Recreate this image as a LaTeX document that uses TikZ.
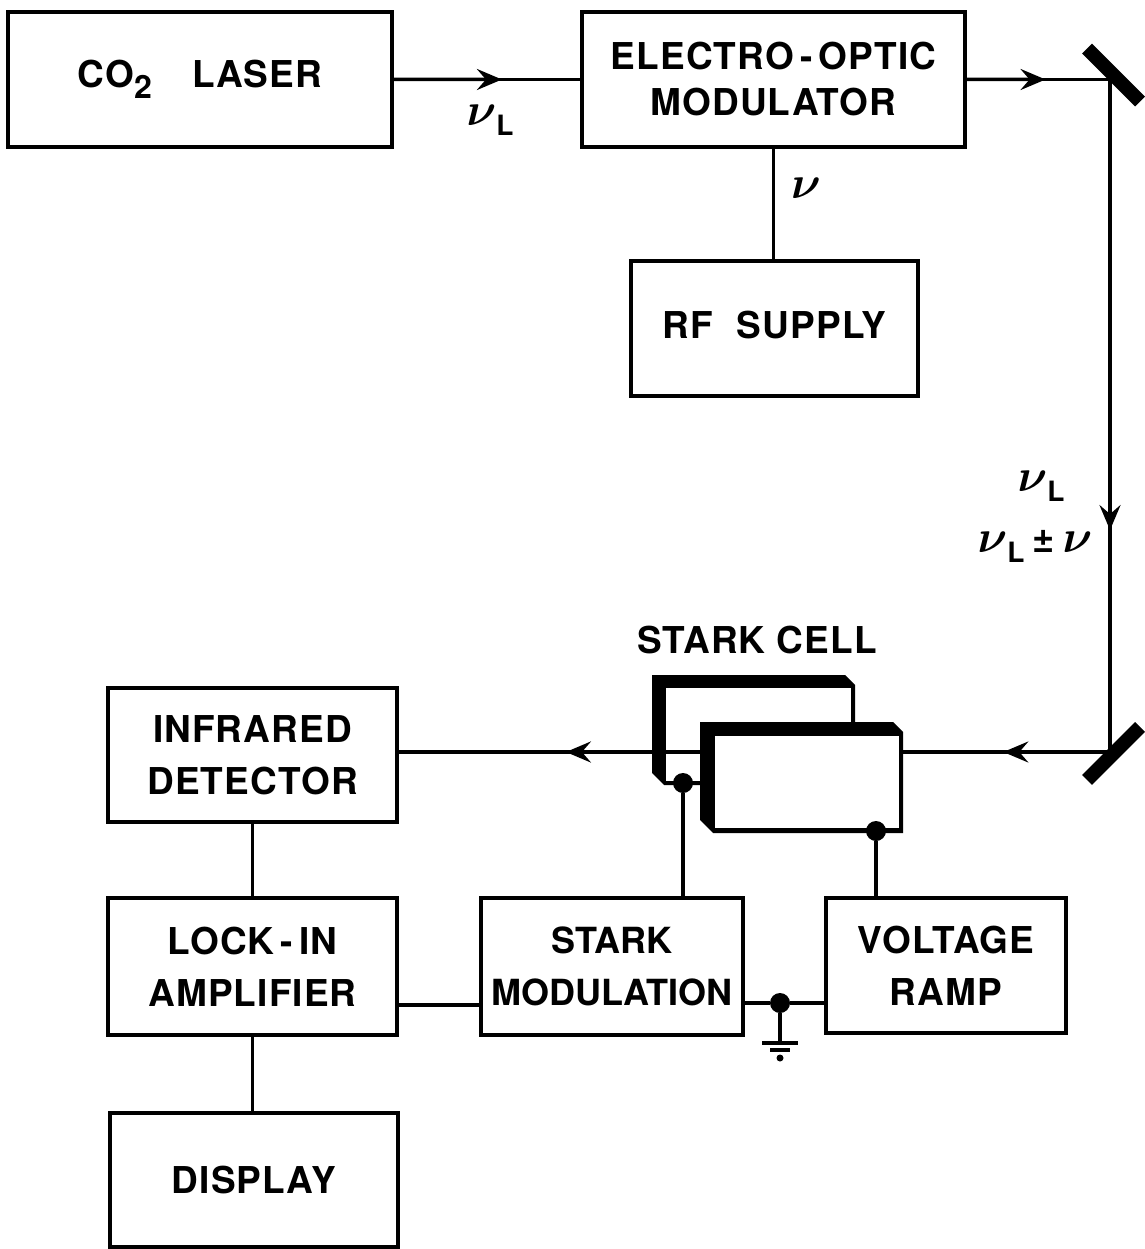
\RequirePackage{fix-cm}
\documentclass[tikz,border=0pt]{standalone}
\usepackage{fontspec}
\setmainfont{TeX Gyre Heros}[LetterSpace=3]
\usepackage{amsmath,bm}
\usetikzlibrary{arrows.meta,calc}
\newcommand{\myNu}{{\fontsize{46}{46}\selectfont$\bm{\nu}$}}
\newcommand{\myNuL}{\myNu\raisebox{-10pt}{\fontsize{28}{28}\selectfont\bfseries L}}
\tikzset{
  box/.style={draw, line width=3.5pt, inner sep=0pt, align=center,
    font=\fontsize{37}{52}\selectfont\bfseries},
  wire/.style={line width=3.5pt},
  arr/.style={line width=3.5pt, -{Stealth[length=25pt,width=21pt,inset=9pt]}},
  mirror/.style={line width=14pt},
  dot/.style={circle, fill=black, inner sep=0pt, minimum size=20pt},
  lbl/.style={inner sep=0pt, font=\fontsize{37}{44}\selectfont\bfseries}
}
\begin{document}
\begin{tikzpicture}[x=1pt,y=-1pt]
\useasboundingbox (0,0) rectangle (1144,1249);
% boxes
\node[box, minimum width=384pt, minimum height=135pt] (laser) at (200,79.5)
  {CO\raisebox{-11pt}{\fontsize{32}{32}\selectfont\bfseries 2}\hspace{40pt}LASER};
\node[box, minimum width=383pt, minimum height=135pt, font=\fontsize{37}{46}\selectfont\bfseries] (eom) at (773.5,79.5)
  {ELECTRO\,-\,OPTIC\\MODULATOR};
\node[box, minimum width=287pt, minimum height=135pt] (rf) at (774.5,328.5)
  {\raisebox{8pt}{RF\hspace{24pt}SUPPLY}};
\node[box, minimum width=289pt, minimum height=134pt] (ir) at (252.5,755)
  {INFRARED\\DETECTOR};
\node[box, minimum width=289pt, minimum height=137pt] (lock) at (252.5,966.5)
  {LOCK\,-\,IN\\AMPLIFIER};
\node[box, minimum width=288pt, minimum height=134pt] (disp) at (254,1180)
  {DISPLAY};
\node[box, minimum width=262pt, minimum height=137pt,
  font=\fontsize{36}{52}\selectfont\bfseries\addfontfeature{LetterSpace=0}] (smod) at (612,966.5)
  {STARK\\MODULATION};
\node[box, minimum width=240pt, minimum height=135pt] (vr) at (946,965.5)
  {VOLTAGE\\RAMP};
% mirrors
\coordinate (m1) at (1110,79.5);
\coordinate (m2) at (1110,752);
\draw[mirror] ($(m1)+(-23,-31)$) -- ($(m1)+(30,22)$);
\draw[mirror] ($(m2)+(-23,28)$) -- ($(m2)+(30,-25)$);
% top beam
\draw[wire] (laser.east) -- (eom.west);
\draw[arr] (laser.east) -- ($(laser.east)!0.58!(eom.west)$);
\draw[wire] (eom.east) -- (m1) -- (m2);
\draw[arr] (eom.east) -- ($(eom.east)!0.55!(m1)$);
\draw[arr] (m1) -- ($(m1)!0.67!(m2)$);
% RF
\draw[wire] (eom.south) -- (eom.south |- rf.north);
% stark cell back plate
\fill (652,675) -- (845,675) -- (855,685) -- (855,785) -- (664,785) -- (652,773) -- cycle;
\fill[white] (666,688) rectangle (851,781);
% bottom beam
\coordinate (irE) at (m2 -| ir.east);
\coordinate (cellL) at (652,752);
\draw[wire] (m2) -- (irE);
\draw[arr] (m2) -- ($(m2)!0.15!(irE)$);
\draw[arr] (cellL) -- ($(cellL)!0.34!(irE)$);
% stark cell front plate
\fill (700,722) -- (893,722) -- (903,732) -- (903,833) -- (713,833) -- (700,820) -- cycle;
\fill[white] (715,736) rectangle (899,828);
\node[lbl] (sc) at (757,640) {STARK CELL};
% electrodes
\node[dot] (d1) at (683,783) {};
\node[dot] (d2) at (876,831) {};
\draw[wire] (d1) -- (d1 |- smod.north);
\draw[wire] (d2) -- (d2 |- vr.north);
% detector chain
\draw[wire] (ir.south) -- (ir.south |- lock.north);
\draw[wire] (lock.south) -- (lock.south |- disp.north);
\coordinate (lk) at ([yshift=-38.5pt]lock.east);
\draw[wire] (lk) -- (lk -| smod.west);
% ground
\node[dot] (g) at (780,1003) {};
\draw[wire] (g -| smod.east) -- (g) -- (g -| vr.west);
\coordinate (g1) at ($(g)+(0,40)$);
\draw[wire] (g) -- (g1);
\draw[wire] ($(g1)+(-18,0)$) -- ($(g1)+(18,0)$);
\draw[wire] ($(g1)+(-10,7)$) -- ($(g1)+(10,7)$);
\fill ($(g1)+(0,15)$) circle (3.5);
% labels
\node[inner sep=0pt] (l1) at (490,120) {\myNuL};
\node[inner sep=0pt] (l2) at (806,188) {\myNu};
\node[inner sep=0pt] (l3) at (1041,486) {\myNuL};
\node[inner sep=0pt] (l4) at (1035,546) {\myNuL\hspace{8pt}{\fontsize{38}{38}\selectfont\bfseries ±}\hspace{8pt}\myNu};
\end{tikzpicture}
\end{document}
